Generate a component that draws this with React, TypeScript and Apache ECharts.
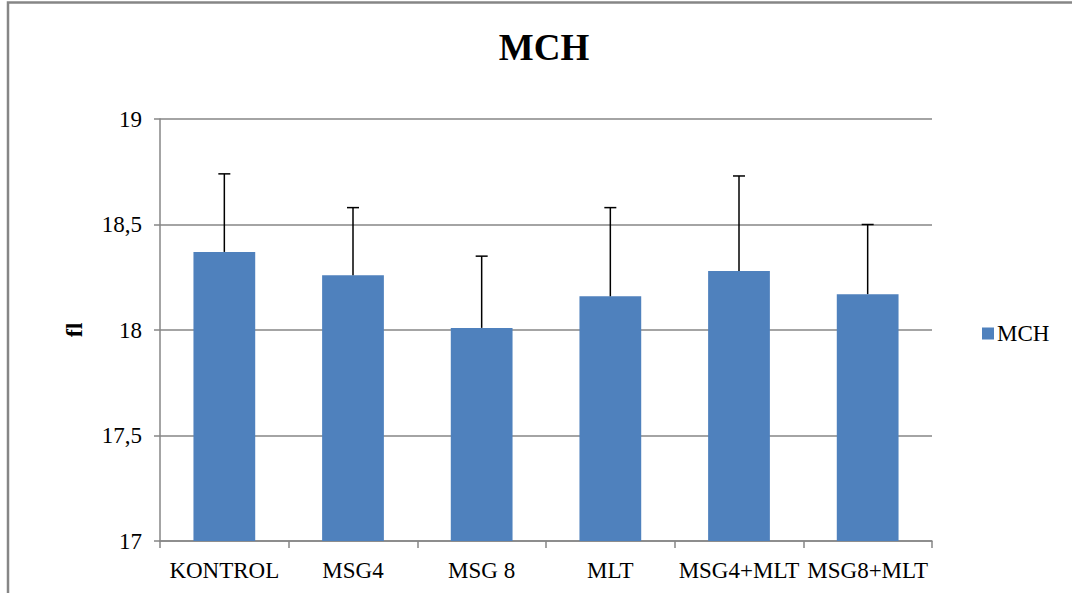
import React, { useEffect, useRef } from "react";
import * as echarts from "echarts";

const categories = ["KONTROL", "MSG4", "MSG 8", "MLT", "MSG4+MLT", "MSG8+MLT"];
const meanValues = [18.37, 18.26, 18.01, 18.16, 18.28, 18.17];
const upperValues = [18.74, 18.58, 18.35, 18.58, 18.73, 18.5];
const yTicks = { min: 17, max: 19, interval: 0.5 };
const titleText = "MCH";
const seriesName = "MCH";
const yAxisName = "fl";

const FONT = "Liberation Serif, serif";

export default function App() {
  const ref = useRef<HTMLDivElement>(null);
  useEffect(() => {
    if (!ref.current) return;
    const chart = echarts.init(ref.current, null, { renderer: "svg" });
    const errData = categories.map((_, i) => [i, upperValues[i], meanValues[i]]);
    chart.setOption({
      animation: false,
      backgroundColor: "#ffffff",
      textStyle: { fontFamily: FONT },
      title: {
        text: titleText,
        left: 539,
        top: 24,
        textAlign: "center",
        textStyle: { fontFamily: FONT, fontSize: 37, fontWeight: "bold", color: "#000" },
      },
      graphic: [
        {
          type: "rect",
          shape: { x: 8, y: 2.5, width: 1100, height: 700 },
          style: { fill: "none", stroke: "#868686", lineWidth: 2.5 },
          silent: true,
        },
      ],
      legend: {
        data: [seriesName],
        left: 977,
        top: 317,
        itemWidth: 12,
        itemHeight: 12,
        itemGap: 5,
        textStyle: { fontFamily: FONT, fontSize: 23, color: "#000", padding: [0, 0, 0, -2] },
        icon: "rect",
      },
      grid: { left: 160, right: 140, top: 119, bottom: 52 },
      xAxis: {
        type: "category",
        data: categories,
        boundaryGap: true,
        axisLine: { lineStyle: { color: "#868686", width: 1.5 } },
        axisTick: { show: true, length: 7, lineStyle: { color: "#868686", width: 1.5 } },
        axisLabel: { fontFamily: FONT, fontSize: 23, color: "#000", margin: 18, interval: 0 },
      },
      yAxis: {
        type: "value",
        min: yTicks.min,
        max: yTicks.max,
        interval: yTicks.interval,
        name: yAxisName,
        nameLocation: "middle",
        nameGap: 74,
        nameRotate: 90,
        nameTextStyle: { fontFamily: FONT, fontSize: 24, fontWeight: "bold", color: "#000" },
        axisLine: { show: true, lineStyle: { color: "#868686", width: 1.5 } },
        axisTick: { show: true, length: 6, lineStyle: { color: "#868686", width: 1.5 } },
        splitLine: { show: true, lineStyle: { color: "#868686", width: 1.5 } },
        axisLabel: {
          fontFamily: FONT,
          fontSize: 23,
          color: "#000",
          margin: 18,
          formatter: (v: number) => String(v).replace(".", ","),
        },
      },
      series: [
        {
          name: seriesName,
          type: "bar",
          data: meanValues,
          barWidth: "48%",
          itemStyle: { color: "#4F81BD" },
          z: 2,
        },
        {
          name: "err",
          type: "custom",
          data: errData,
          z: 3,
          renderItem: (params: any, api: any) => {
            const i = api.value(0);
            const top = api.coord([i, api.value(1)]);
            const base = api.coord([i, api.value(2)]);
            const cap = 6;
            return {
              type: "group",
              children: [
                {
                  type: "line",
                  shape: { x1: top[0], y1: top[1], x2: base[0], y2: base[1] },
                  style: { stroke: "#000", lineWidth: 1.5 },
                },
                {
                  type: "line",
                  shape: { x1: top[0] - cap, y1: top[1], x2: top[0] + cap, y2: top[1] },
                  style: { stroke: "#000", lineWidth: 1.5 },
                },
              ],
            };
          },
        },
      ],
    });
    return () => chart.dispose();
  }, []);
  return (
    <div
      ref={ref}
      style={{ position: "fixed", left: 0, top: 0, width: 1072, height: 593 }}
    />
  );
}
